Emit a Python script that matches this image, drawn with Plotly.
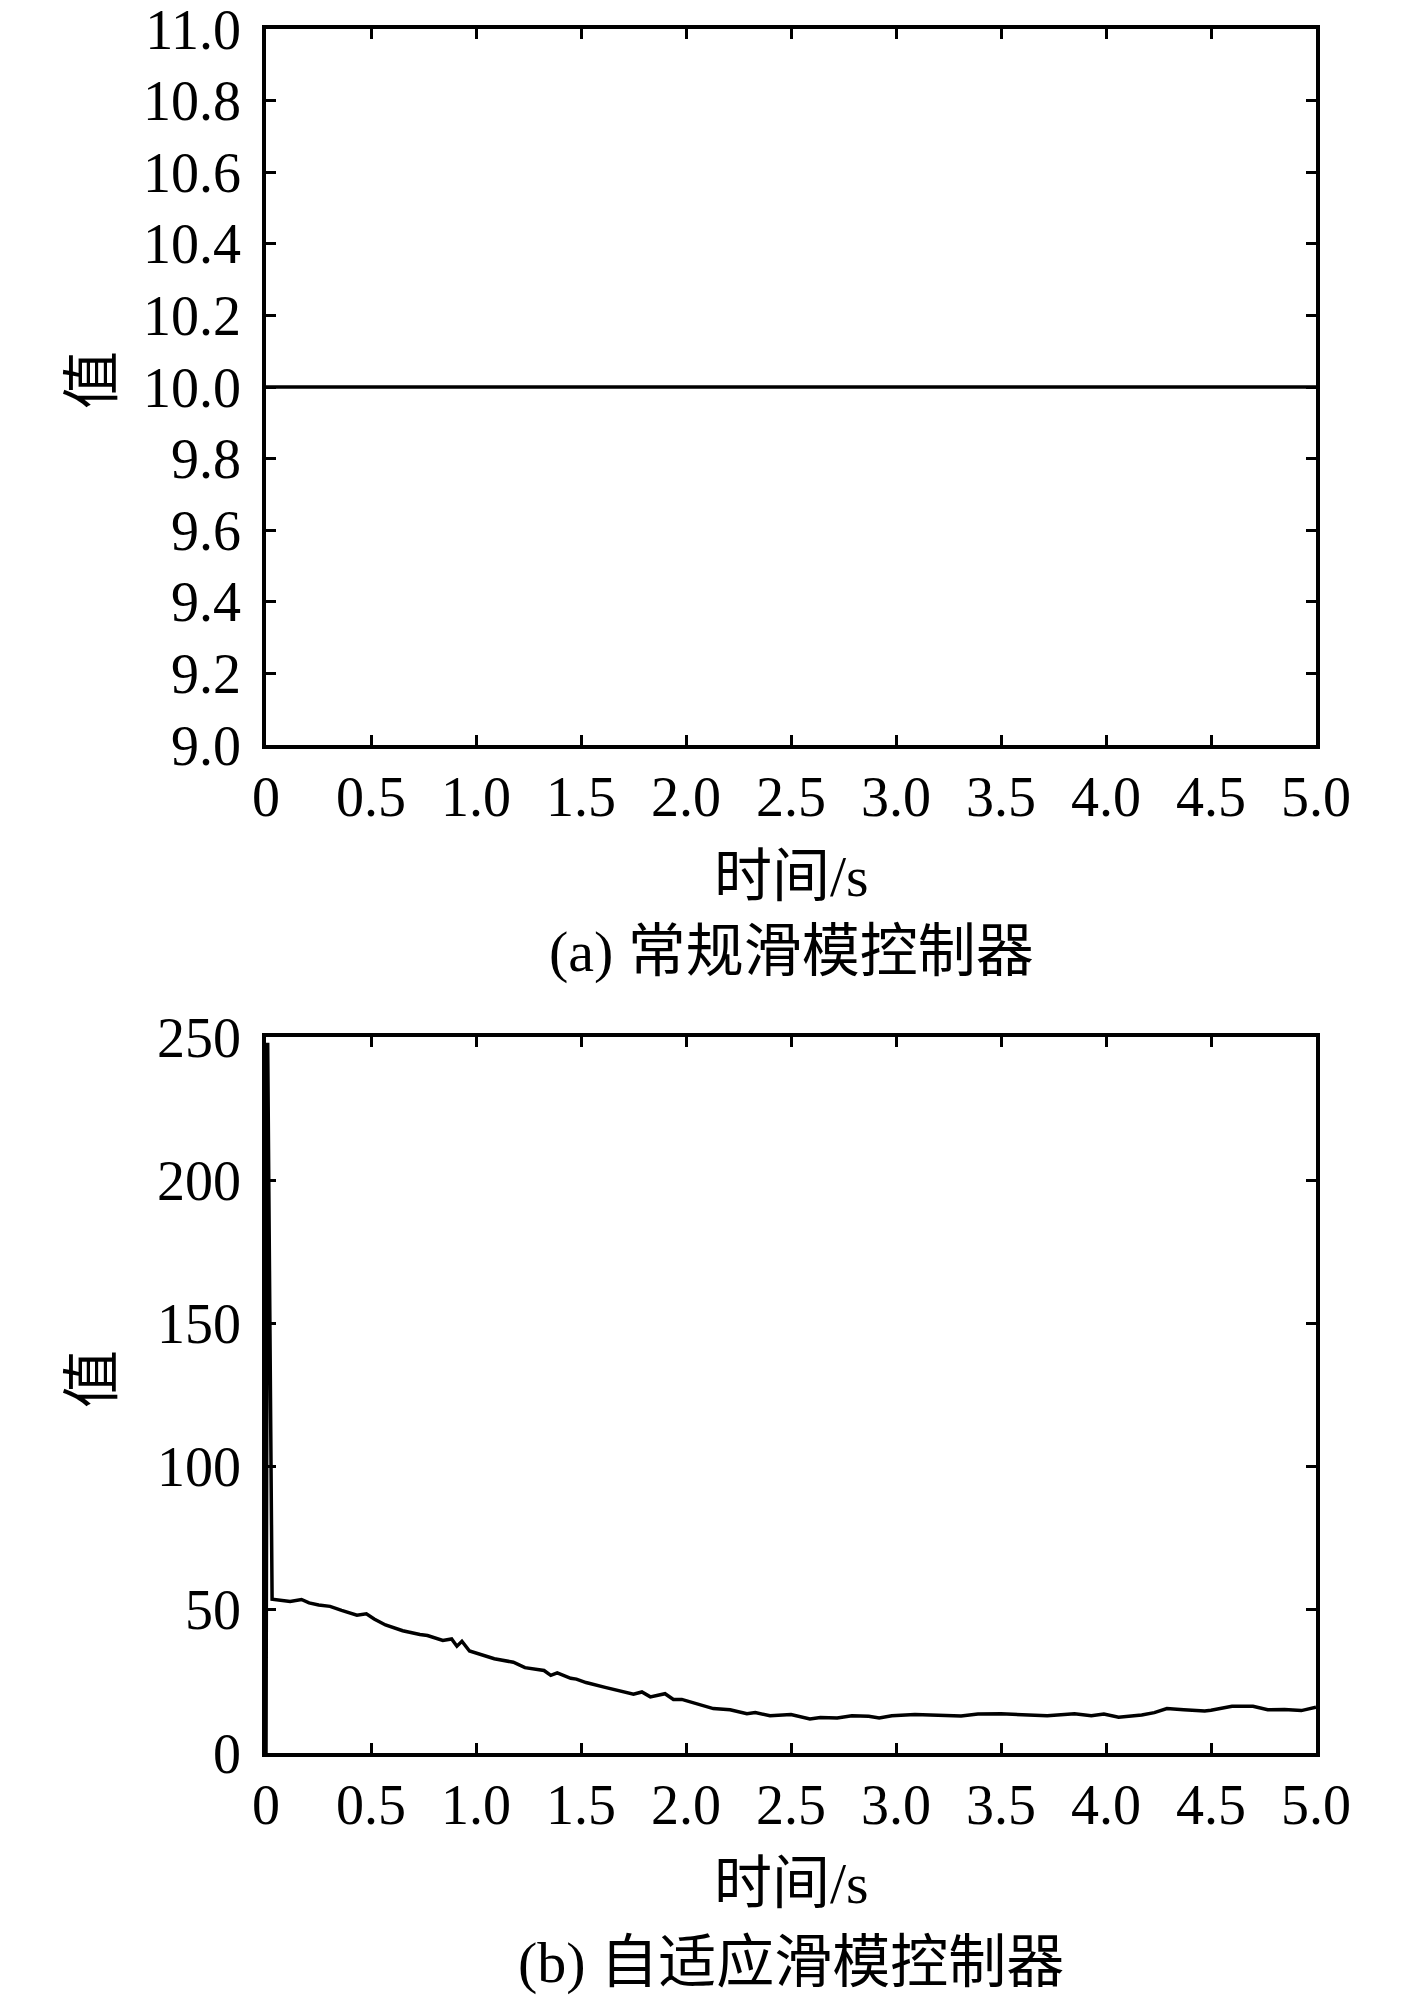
import plotly.graph_objects as go

# the page body adds an 8px margin, so the figure is made 8px smaller
# and all reference pixel positions are shifted by the same amount
OFF = 8
W, H = 1417 - OFF, 2001 - OFF

# (a) conventional sliding mode controller: constant value
time_a = [0, 5.0]
value_a = [10.0, 10.0]

# (b) adaptive sliding mode controller
time_b = [0, 0.008, 0.029, 0.115, 0.169, 0.205, 0.251, 0.305, 0.36, 0.433,
          0.478, 0.515, 0.569, 0.651, 0.733, 0.769, 0.842, 0.884, 0.909, 0.933,
          0.969, 1.051, 1.087, 1.178, 1.233, 1.324, 1.356, 1.387, 1.451, 1.478,
          1.524, 1.615, 1.69, 1.75, 1.79, 1.83, 1.90, 1.94, 1.98, 2.06,
          2.13, 2.21, 2.29, 2.33, 2.40, 2.50, 2.59, 2.64, 2.72, 2.79,
          2.87, 2.92, 2.98, 3.09, 3.21, 3.31, 3.39, 3.50, 3.72, 3.85,
          3.93, 3.99, 4.06, 4.17, 4.23, 4.29, 4.37, 4.47, 4.50, 4.60,
          4.70, 4.77, 4.85, 4.93, 5.0]
value_b = [0, 248, 53.7, 52.9, 53.6, 52.4, 51.7, 51.2, 49.8, 48.1,
           48.6, 46.8, 44.7, 42.7, 41.4, 41.0, 39.3, 39.8, 37.3, 39.0,
           35.6, 33.9, 32.9, 31.7, 29.8, 28.8, 27.1, 28.0, 26.1, 25.8,
           24.6, 22.9, 21.6, 20.5, 21.3, 19.6, 20.7, 18.7, 18.7, 17.0,
           15.5, 15.1, 13.7, 14.1, 13.0, 13.4, 11.9, 12.4, 12.2, 13.0,
           12.8, 12.2, 13.0, 13.4, 13.0, 12.9, 13.6, 13.7, 13.0, 13.7,
           13.0, 13.6, 12.5, 13.3, 14.1, 15.5, 15.1, 14.7, 14.9, 16.3,
           16.3, 15.1, 15.2, 14.8, 16.0]

x_ticks = [0, 0.5, 1.0, 1.5, 2.0, 2.5, 3.0, 3.5, 4.0, 4.5, 5.0]
x_ticktext = ["0", "0.5", "1.0", "1.5", "2.0", "2.5", "3.0", "3.5", "4.0", "4.5", "5.0"]
y_ticks_a = [9.0, 9.2, 9.4, 9.6, 9.8, 10.0, 10.2, 10.4, 10.6, 10.8, 11.0]
y_ticks_b = [0, 50, 100, 150, 200, 250]

x_title = "时间/s"
y_title = "值"
caption_a = "(a) 常规滑模控制器"
caption_b = "(b) 自适应滑模控制器"

FONT = "Liberation Serif, Times New Roman, Noto Sans CJK SC, serif"
TICK_SIZE = 56
TEXT_SIZE = 58


def px_y(y):
    return 1 - (y - OFF) / H


def px_x(x):
    return (x - OFF) / W


fig = go.Figure()
fig.add_trace(go.Scatter(x=time_a, y=value_a, mode="lines",
                         line=dict(color="black", width=3.5), xaxis="x", yaxis="y"))
fig.add_trace(go.Scatter(x=time_b, y=value_b, mode="lines",
                         line=dict(color="black", width=3.5), xaxis="x2", yaxis="y2"))

axis_style = dict(showline=True, linecolor="black", linewidth=3.5, mirror="allticks",
                  ticks="inside", ticklen=10, tickwidth=3, tickcolor="black",
                  showgrid=False, zeroline=False, automargin=False,
                  ticklabeloverflow="allow",
                  tickfont=dict(family=FONT, size=TICK_SIZE, color="black"))

xdom = [px_x(266), px_x(1316)]
fig.update_layout(
    width=W, height=H,
    margin=dict(l=0, r=0, t=0, b=0),
    paper_bgcolor="white", plot_bgcolor="white",
    showlegend=False,
    xaxis=dict(domain=xdom, range=[0, 5], tickvals=x_ticks, ticktext=x_ticktext,
               anchor="y", ticklabelstandoff=0, **axis_style),
    yaxis=dict(domain=[px_y(745), px_y(29)], range=[9, 11], tickvals=y_ticks_a,
               tickformat=".1f", anchor="x", ticklabelstandoff=10, **axis_style),
    xaxis2=dict(domain=xdom, range=[0, 5], tickvals=x_ticks, ticktext=x_ticktext,
                anchor="y2", ticklabelstandoff=0, **axis_style),
    yaxis2=dict(domain=[px_y(1753), px_y(1037)], range=[0, 250], tickvals=y_ticks_b,
                anchor="x2", ticklabelstandoff=10, **axis_style),
)

text_font = dict(family=FONT, size=TEXT_SIZE, color="black")
annotations = [
    (x_title, px_x(791), px_y(876), 0),
    (caption_a, px_x(791), px_y(951), 0),
    (x_title, px_x(791), px_y(1883), 0),
    (caption_b, px_x(791), px_y(1962), 0),
    (y_title, px_x(92), px_y(380), -90),
    (y_title, px_x(92), px_y(1379), -90),
]
for text, x, y, angle in annotations:
    fig.add_annotation(text=text, x=x, y=y, xref="paper", yref="paper",
                       xanchor="center", yanchor="middle", showarrow=False,
                       textangle=angle, font=text_font)

fig.write_html("out.html")
